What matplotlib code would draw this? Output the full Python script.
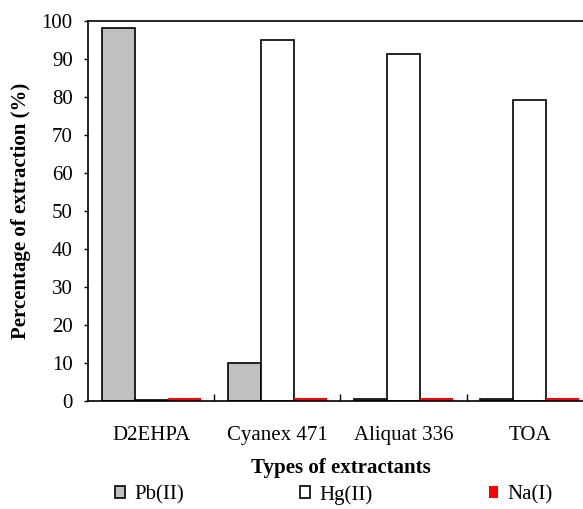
import matplotlib
matplotlib.use("Agg")
import matplotlib.pyplot as plt
import numpy as np

categories = ["D2EHPA", "Cyanex 471", "Aliquat 336", "TOA"]
pb = [98.0, 10.0, 0.5, 0.5]
hg = [0.4, 95.0, 91.3, 79.3]
na = [0.8, 0.8, 0.8, 0.8]
series_labels = ["Pb(II)", "Hg(II)", "Na(I)"]

plt.rcParams["font.family"] = ["Liberation Serif", "DejaVu Serif"]
plt.rcParams["font.size"] = 15

fig = plt.figure(figsize=(5.83, 5.09), dpi=100)
ax = fig.add_axes([0.151, 0.212, 0.866, 0.747])

x = np.arange(len(categories))
width = 0.262
b1 = ax.bar(x - width, pb, width=width, color="#c0c0c0", edgecolor="black", linewidth=1.2)
b2 = ax.bar(x, hg, width=width, color="white", edgecolor="black", linewidth=1.2)
b3 = ax.bar(x + width, na, width=width, color="#ff0000", edgecolor="none")

ax.set_xlim(-0.5, len(categories) - 0.5)
ax.set_ylim(0, 100)
ax.set_yticks(np.arange(0, 101, 10))
ax.set_xticks(x)
ax.set_xticklabels(categories)
ax.set_xticks(np.arange(0.5, len(categories) - 0.5), minor=True)
ax.tick_params(axis="x", which="major", length=0, pad=18)
ax.tick_params(axis="x", which="minor", direction="in", length=5, width=1)
ax.tick_params(axis="y", direction="out", length=3, width=1, pad=8)

for s in ax.spines.values():
    s.set_linewidth(1.2)

ax.set_xlabel("Types of extractants", fontweight="bold", labelpad=9)
ax.set_ylabel("Percentage of extraction (%)", fontweight="bold", labelpad=8)

fig.legend([b1, b2, b3], series_labels, loc="lower center", bbox_to_anchor=(0.573, -0.028),
           ncol=3, frameon=False, handlelength=0.45, handleheight=0.45,
           handletextpad=0.45, columnspacing=5.6)

fig.savefig("out.png", dpi=100)
